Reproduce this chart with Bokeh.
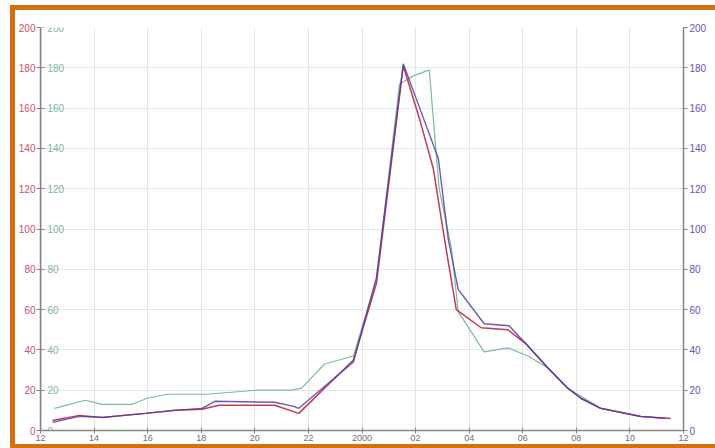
from bokeh.plotting import figure
from bokeh.models import LinearAxis, FixedTicker, SingleIntervalTicker
from bokeh.embed import file_html
from bokeh.resources import INLINE

# x positions in years since the first tick (tick "12" = 0, tick "2000" = 12)
x_ticks = [0, 2, 4, 6, 8, 10, 12, 14, 16, 18, 20, 22, 24]
x_tick_labels = ["12", "14", "16", "18", "20", "22", "2000", "02", "04", "06", "08", "10", "12"]

red_t = [0.45, 1.45, 2.31, 3.91, 5.02, 6.03, 6.66, 8.74, 9.64, 11.68, 12.54, 13.54,
         14.14, 14.66, 15.14, 15.52, 16.45, 17.45, 18.12, 18.94, 19.68, 20.17, 20.91, 22.40, 23.52]
red_v = [5, 7.5, 6.5, 8.5, 10, 10.5, 12.5, 12.5, 8.5, 35, 73, 181,
         155, 130, 90, 60, 51, 50, 43, 31, 21, 16, 11, 7, 6]

blue_t = [0.45, 1.45, 2.31, 3.91, 5.02, 6.03, 6.51, 8.74, 9.45, 9.64, 11.68, 12.54, 13.54,
          14.21, 14.85, 15.22, 15.59, 16.56, 17.49, 18.05, 18.94, 19.68, 20.17, 20.91, 22.40, 23.33]
blue_v = [4, 7, 6.5, 8.5, 10, 11, 14.5, 14, 12, 11, 34, 76, 182,
          158, 135, 95, 70, 53, 52, 44, 31, 21, 16, 11, 7, 6]

green_t = [0.52, 1.67, 2.31, 3.42, 3.98, 4.73, 6.21, 8.07, 9.38, 9.75, 10.60, 11.42, 11.68,
           12.54, 13.40, 13.92, 14.51, 14.88, 15.33, 15.40, 15.59, 16.56, 17.45, 18.20,
           18.94, 19.68, 20.91, 22.40, 23.33]
green_v = [11, 15, 13, 13, 16, 18, 18, 20, 20, 21, 33, 36, 37,
           75, 172, 176, 179, 120, 91, 83, 59, 39, 41, 37,
           31, 21, 11, 7, 6]

y_ticks_interval = 20

ORANGE = "#d4700f"
RED = "#c23a55"
BLUE = "#4b3fa6"
GREEN = "#7dbb9e"
RED_LBL = "#d0506a"
GREEN_LBL = "#7fb59f"
BLUE_LBL = "#6058c0"
X_LBL = "#707070"
AXIS = "#858585"
FONT = "Liberation Sans"

p = figure(width=705, height=443, x_range=(0, 24), y_range=(0, 200),
           output_backend="svg", toolbar_location=None,
           min_border_left=23, min_border_right=37, min_border_top=17, min_border_bottom=23)
p.styles = {"margin-left": "10px", "margin-top": "5px",
            "border-left": f"5px solid {ORANGE}", "border-top": f"5px solid {ORANGE}",
            "border-bottom": f"4px solid {ORANGE}"}
p.outline_line_color = None
p.background_fill_color = "white"
p.border_fill_color = "white"

# grids
p.xgrid.ticker = FixedTicker(ticks=x_ticks)
p.ygrid.ticker = SingleIntervalTicker(interval=y_ticks_interval)
for g in (p.xgrid[0], p.ygrid[0]):
    g.grid_line_color = "#e6e6e6"
    g.grid_line_width = 1

# bottom axis
xa = p.xaxis[0]
xa.ticker = FixedTicker(ticks=x_ticks)
xa.major_label_overrides = {t: l for t, l in zip(x_ticks, x_tick_labels)}
xa.major_tick_in = 3
xa.major_tick_out = 3
xa.minor_tick_line_color = None
xa.axis_line_color = AXIS
xa.axis_line_width = 1.5
xa.major_tick_line_color = AXIS
xa.major_label_text_font = FONT
xa.major_label_text_font_size = "9px"
xa.major_label_text_color = X_LBL
xa.major_label_standoff = 1

# left red axis
ya = p.yaxis[0]
ya.ticker = SingleIntervalTicker(interval=y_ticks_interval)
ya.major_tick_in = 0
ya.major_tick_out = 4
ya.minor_tick_line_color = None
ya.axis_line_color = AXIS
ya.axis_line_width = 1.5
ya.major_tick_line_color = AXIS
ya.major_label_text_font = FONT
ya.major_label_text_font_size = "10px"
ya.major_label_text_color = RED_LBL
ya.major_label_standoff = 1

# right blue axis
ra = LinearAxis(ticker=SingleIntervalTicker(interval=y_ticks_interval))
ra.major_tick_in = 0
ra.major_tick_out = 4
ra.minor_tick_line_color = None
ra.axis_line_color = AXIS
ra.axis_line_width = 1.5
ra.major_tick_line_color = AXIS
ra.major_label_text_font = FONT
ra.major_label_text_font_size = "10px"
ra.major_label_text_color = BLUE_LBL
ra.major_label_standoff = 2
p.add_layout(ra, "right")

# inner green axis drawn at the left edge, labels inside the plot
ga = LinearAxis(ticker=SingleIntervalTicker(interval=y_ticks_interval), fixed_location=0)
ga.major_tick_in = 0
ga.major_tick_out = 4
ga.minor_tick_line_color = None
ga.axis_line_color = AXIS
ga.axis_line_width = 1.5
ga.major_tick_line_color = AXIS
ga.major_label_text_font = FONT
ga.major_label_text_font_size = "10px"
ga.major_label_text_color = GREEN_LBL
ga.major_label_standoff = 3
p.add_layout(ga, "right")

p.line(green_t, green_v, line_color=GREEN, line_width=1.2)
p.line(red_t, red_v, line_color=RED, line_width=1.5)
p.line(blue_t, blue_v, line_color=BLUE, line_width=1.4, line_alpha=0.85)

open("out.html", "w").write(file_html(p, INLINE))
